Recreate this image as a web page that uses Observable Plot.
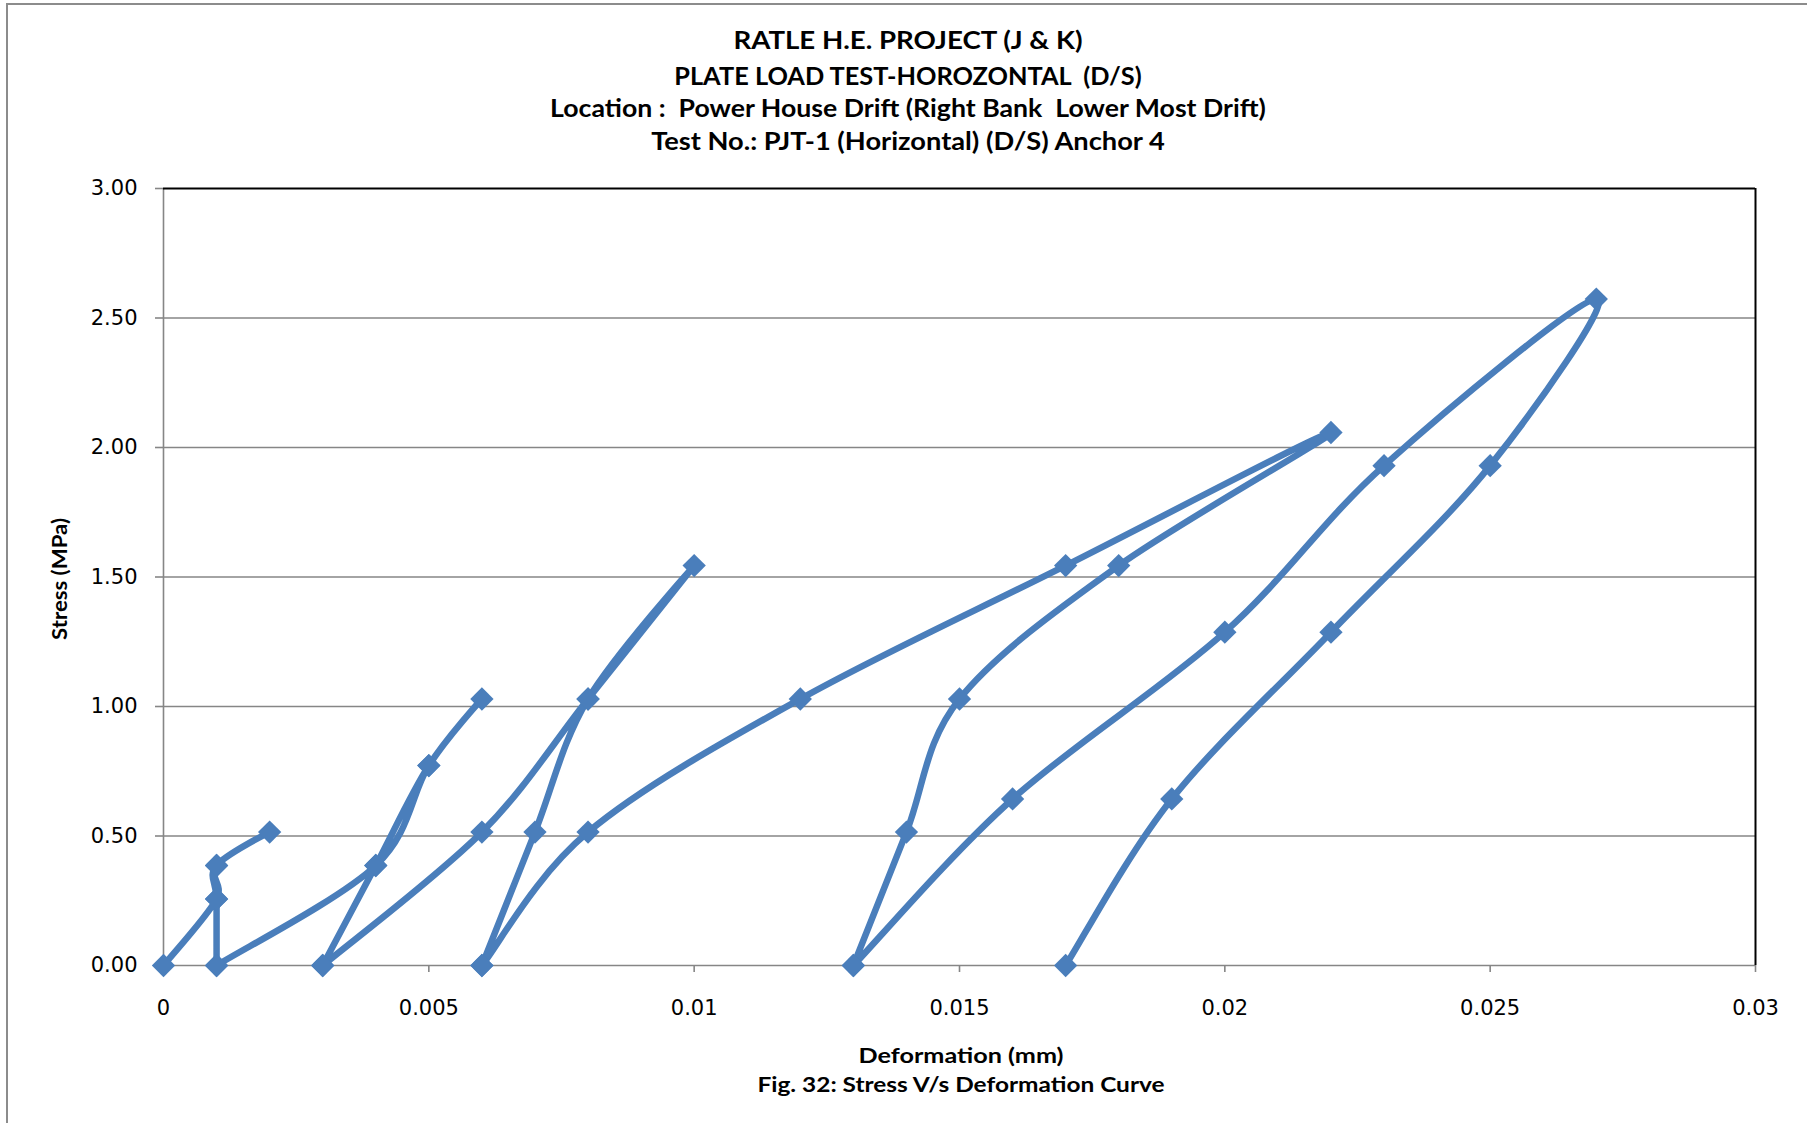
<!DOCTYPE html>
<html>
<head>
<meta charset="utf-8">
<script src="https://cdn.jsdelivr.net/npm/d3@7"></script>
<script src="https://cdn.jsdelivr.net/npm/@observablehq/plot@0.6"></script>
<style>
  html, body { margin: 0; padding: 0; background: #fff; overflow: hidden; }
  #page { position: relative; width: 1807px; height: 1123px; overflow: hidden; background: #fff; }
  #border { position: absolute; left: 6px; top: 3px; width: 1840px; height: 1160px; border: 2px solid #8c8c8c; box-sizing: border-box; }
  .lbl { position: absolute; font-family: Lato, "Open Sans", sans-serif; font-weight: 700; color: #000; white-space: pre; line-height: 1; }
  .title { font-size: 24.5px; }
  .axis { font-size: 21px; }
  #chart { position: absolute; left: 0; top: 150px; }
</style>
</head>
<body>
<div id="page">
  <div id="border"></div>
  <div id="chart"></div>
</div>
<script>
// Plate load test readings, cycle by cycle; each reload starts from the previous residual deformation
const deformation = [
  0, 0.001, 0.001, 0.002, 0.001, 0.001, 0.001,
  0.001, 0.004, 0.005, 0.006, 0.005, 0.004, 0.003,
  0.003, 0.006, 0.008, 0.010, 0.008, 0.007, 0.006,
  0.006, 0.008, 0.012, 0.017, 0.022, 0.018, 0.015, 0.014, 0.013,
  0.013, 0.016, 0.020, 0.023, 0.027, 0.025, 0.022, 0.019, 0.017
];
const stress = [
  0, 0.257, 0.386, 0.515, 0.386, 0.257, 0,
  0, 0.386, 0.772, 1.029, 0.772, 0.386, 0,
  0, 0.515, 1.029, 1.544, 1.029, 0.515, 0,
  0, 0.515, 1.029, 1.544, 2.058, 1.544, 1.029, 0.515, 0,
  0, 0.643, 1.287, 1.930, 2.573, 1.930, 1.287, 0.643, 0
];

const xTicks = [0, 0.005, 0.01, 0.015, 0.02, 0.025, 0.03];
const xTickLabels = ["0", "0.005", "0.01", "0.015", "0.02", "0.025", "0.03"];
const yTicks = [0, 0.5, 1, 1.5, 2, 2.5, 3];

const titleLines = [
  "RATLE H.E. PROJECT (J & K)",
  "PLATE LOAD TEST-HOROZONTAL  (D/S)",
  "Location :  Power House Drift (Right Bank  Lower Most Drift)",
  "Test No.: PJT-1 (Horizontal) (D/S) Anchor 4"
];
const xLabel = "Deformation (mm)";
const yLabel = "Stress (MPa)";
const caption = "Fig. 32: Stress V/s Deformation Curve";

const data = deformation.map((d, i) => ({deformation: d, stress: stress[i]}));

const blue = "#4a7ebb";
const grid = "#868686";

// Spreadsheet-style smoothed line: cubic Bézier per segment, control points at 1/6 of the
// neighbour chord, limited to half the segment length (so repeated points give sharp corners).
function smoothScatter(context) {
  let pts;
  return {
    areaStart() {}, areaEnd() {},
    lineStart() { pts = []; },
    point(x, y) { pts.push([+x, +y]); },
    lineEnd() {
      const n = pts.length;
      if (!n) return;
      context.moveTo(pts[0][0], pts[0][1]);
      for (let i = 0; i < n - 1; i++) {
        const p0 = pts[Math.max(i - 1, 0)], p1 = pts[i], p2 = pts[i + 1], p3 = pts[Math.min(i + 2, n - 1)];
        const d12 = Math.hypot(p2[0] - p1[0], p2[1] - p1[1]);
        if (d12 === 0) continue;
        const t1 = [p2[0] - p0[0], p2[1] - p0[1]], t2 = [p3[0] - p1[0], p3[1] - p1[1]];
        const l1 = Math.hypot(t1[0], t1[1]), l2 = Math.hypot(t2[0], t2[1]);
        const f1 = l1 > 0 ? Math.min(1 / 6, d12 / 2 / l1) : 0;
        const f2 = l2 > 0 ? Math.min(1 / 6, d12 / 2 / l2) : 0;
        context.bezierCurveTo(
          p1[0] + f1 * t1[0], p1[1] + f1 * t1[1],
          p2[0] - f2 * t2[0], p2[1] - f2 * t2[1],
          p2[0], p2[1]
        );
      }
    }
  };
}

const chart = Plot.plot({
  width: 1807,
  height: 875,
  marginLeft: 163,
  marginRight: 52,
  marginTop: 38,
  marginBottom: 60,
  style: {fontFamily: "'DejaVu Sans', sans-serif", fontSize: "21px", color: "#000", background: "transparent", overflow: "visible"},
  x: {domain: [0, 0.03], label: null},
  y: {domain: [0, 3], label: null},
  marks: [
    Plot.gridY(yTicks.filter(d => d > 0 && d < 3), {stroke: grid, strokeOpacity: 1, strokeWidth: 1.6}),
    Plot.axisY(yTicks, {tickSize: 8, tickPadding: 18, stroke: grid, strokeWidth: 1.6, fill: "#000", tickFormat: d3.format(".2f")}),
    Plot.axisX(xTicks, {tickSize: 7, tickPadding: 28, stroke: grid, strokeWidth: 1.6, fill: "#000", tickFormat: d => xTickLabels[xTicks.indexOf(d)]}),
    Plot.ruleX([0], {stroke: grid, strokeWidth: 1.6}),
    Plot.ruleY([0], {stroke: grid, strokeWidth: 1.6}),
    Plot.ruleY([3], {stroke: "#000", strokeWidth: 2}),
    Plot.ruleX([0.03], {stroke: "#000", strokeWidth: 2}),
    Plot.line(data, {x: "deformation", y: "stress", curve: smoothScatter, stroke: blue, strokeWidth: 6.5, strokeLinejoin: "round"}),
    Plot.dot(data, {x: "deformation", y: "stress", symbol: "diamond2", r: 10.5, fill: blue, stroke: "none"})
  ]
});
document.getElementById("chart").appendChild(chart);

// Text placement: centre point and width each line occupies
const page = document.getElementById("page");
const measureCtx = document.createElement("canvas").getContext("2d");
function addLabel(text, cls, cx, cy, width, rotate) {
  const el = document.createElement("div");
  el.className = "lbl " + cls;
  el.textContent = text;
  page.appendChild(el);
  const cs = getComputedStyle(el);
  measureCtx.font = `${cs.fontWeight} ${cs.fontSize} ${cs.fontFamily}`;
  const k = width / measureCtx.measureText(text).width;
  el.style.left = cx + "px";
  el.style.top = cy + "px";
  el.style.transform = `translate(-50%, -50%)${rotate ? " rotate(-90deg)" : ""} scaleX(${k})`;
  return el;
}

const titleLayout = [[908, 40, 350], [908, 76, 469], [908, 108, 717], [908, 141, 515]];
titleLines.forEach((t, i) => addLabel(t, "title", titleLayout[i][0], titleLayout[i][1], titleLayout[i][2]));
addLabel(xLabel, "axis", 961, 1054, 205);
addLabel(caption, "axis", 961, 1083, 408);
addLabel(yLabel, "axis", 58, 579, 122, true);
</script>
</body>
</html>
